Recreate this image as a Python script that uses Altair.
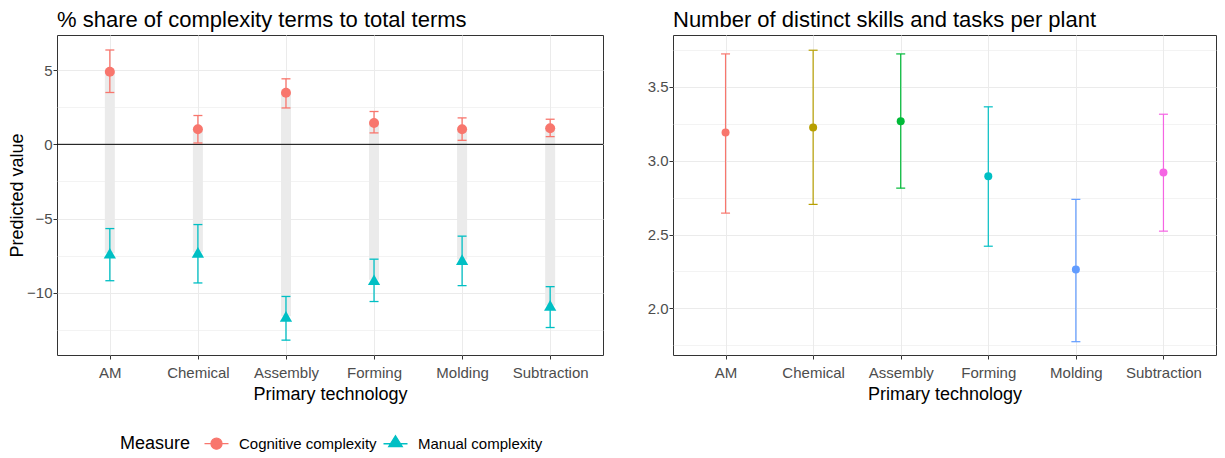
import altair as alt
import pandas as pd

tech = ["AM", "Chemical", "Assembly", "Forming", "Molding", "Subtraction"]
measures = ["Cognitive complexity", "Manual complexity"]

cog = [4.89, 1.01, 3.47, 1.44, 1.01, 1.08]
cog_lo = [3.49, 0.09, 2.45, 0.77, 0.27, 0.52]
cog_hi = [6.35, 1.94, 4.41, 2.21, 1.78, 1.69]
man = [-7.33, -7.27, -11.58, -9.11, -7.76, -10.84]
man_lo = [-9.18, -9.33, -13.18, -10.58, -9.51, -12.33]
man_hi = [-5.67, -5.40, -10.24, -7.73, -6.18, -9.58]

skills = [3.19, 3.224, 3.267, 2.894, 2.264, 2.919]
skills_lo = [2.645, 2.704, 2.814, 2.421, 1.775, 2.523]
skills_hi = [3.722, 3.747, 3.722, 3.364, 2.738, 3.314]

left_ticks = [-12.5, -10, -7.5, -5, -2.5, 0, 2.5, 5, 7.5]
right_ticks = [1.75, 2.0, 2.25, 2.5, 2.75, 3.0, 3.25, 3.5, 3.75]

measure_colors = ["#F8766D", "#00BFC4"]
tech_colors = ["#F8766D", "#B79F00", "#00BA38", "#00BFC4", "#619CFF", "#F564E3"]

# legend keys: point with a short horizontal error-bar line through it
key_paths = [
    "M-2.4,0L2.4,0M-1.1,0A1.1,1.1,0,1,1,1.1,0A1.1,1.1,0,1,1,-1.1,0Z",
    "M-2.4,0L2.4,0M0,-1.6L1.35,0.55L-1.35,0.55Z",
]

FONT = "Liberation Sans"

long_rows = []
for i, t in enumerate(tech):
    long_rows.append({"tech": t, "Measure": measures[0], "val": cog[i], "lo": cog_lo[i], "hi": cog_hi[i]})
    long_rows.append({"tech": t, "Measure": measures[1], "val": man[i], "lo": man_lo[i], "hi": man_hi[i]})
left_df = pd.DataFrame(long_rows)
wide_df = pd.DataFrame({"tech": tech, "cog": cog, "man": man})
zero_df = pd.DataFrame({"z": [0]})
right_df = pd.DataFrame({"tech": tech, "val": skills, "lo": skills_lo, "hi": skills_hi})


def xenc():
    return alt.X("tech:N", sort=tech,
                 scale=alt.Scale(type="point", padding=0.6, domain=tech),
                 axis=alt.Axis(title="Primary technology", labelAngle=0, grid=True,
                               gridWidth=1, titlePadding=5, labelPadding=6))


def left_axis():
    return alt.Axis(title="Predicted value", values=left_ticks, grid=True,
                    labelExpr="datum.value % 5 === 0 ? datum.label : ''",
                    gridWidth={"condition": {"test": "datum.value % 5 !== 0", "value": 0.6}, "value": 1.1},
                    tickOpacity={"condition": {"test": "datum.value % 5 !== 0", "value": 0}, "value": 1},
                    titlePadding=0, labelPadding=1)


def right_axis():
    test = "abs(datum.value * 2 - round(datum.value * 2)) > 0.001"
    return alt.Axis(title=None, values=right_ticks, grid=True, format=".1f",
                    labelExpr="abs(datum.value * 2 - round(datum.value * 2)) > 0.001 ? '' : datum.label",
                    gridWidth={"condition": {"test": test, "value": 0.6}, "value": 1.1},
                    tickOpacity={"condition": {"test": test, "value": 0}, "value": 1},
                    labelPadding=1)


lscale = alt.Scale(domain=[-14.18, 7.36], nice=False, zero=False)
rscale = alt.Scale(domain=[1.685, 3.85], nice=False, zero=False)


def build(fancy, colpad):
    leg_kwargs = dict(title="Measure", orient="none", legendX=63, legendY=401,
                      direction="horizontal", titleOrient="left",
                      titleFontSize=18, titleFontWeight="normal", titleColor="#000000",
                      titleFont=FONT, labelFont=FONT, labelFontSize=15, labelColor="#000000",
                      titlePadding=18 if fancy else 10, labelOffset=15 if fancy else 10,
                      columnPadding=colpad, symbolSize=100, symbolOpacity=1,
                      symbolStrokeWidth=1.3)
    legend = alt.Legend(**leg_kwargs)

    lcolor = alt.Color("Measure:N", scale=alt.Scale(domain=measures, range=measure_colors), legend=legend)

    bars = alt.Chart(wide_df).mark_rule(strokeWidth=10, color="#EBEBEB").encode(
        x=xenc(),
        y=alt.Y("man:Q", scale=lscale, axis=left_axis()),
        y2="cog:Q",
    )
    zero = alt.Chart(zero_df).mark_rule(color="#000000", strokeWidth=1).encode(
        y=alt.Y("z:Q", scale=lscale, axis=left_axis()),
    )
    err = alt.Chart(left_df).mark_rule(strokeWidth=1.3).encode(
        x=xenc(),
        y=alt.Y("lo:Q", scale=lscale, axis=left_axis()),
        y2="hi:Q",
        color=lcolor,
    )
    cap_lo = alt.Chart(left_df).mark_tick(size=9, thickness=1.3, opacity=1).encode(
        x=xenc(), y=alt.Y("lo:Q", scale=lscale, axis=left_axis()), color=lcolor)
    cap_hi = alt.Chart(left_df).mark_tick(size=9, thickness=1.3, opacity=1).encode(
        x=xenc(), y=alt.Y("hi:Q", scale=lscale, axis=left_axis()), color=lcolor)
    pts_c = alt.Chart(left_df).transform_filter(
        alt.datum.Measure == measures[0]
    ).mark_point(filled=True, opacity=1, shape="circle", size=100).encode(
        x=xenc(), y=alt.Y("val:Q", scale=lscale, axis=left_axis()), color=lcolor)
    pts_m = alt.Chart(left_df).transform_filter(
        alt.datum.Measure == measures[1]
    ).mark_point(filled=True, opacity=1, shape="triangle-up", size=150).encode(
        x=xenc(), y=alt.Y("val:Q", scale=lscale, axis=left_axis()), color=lcolor)
    layers = [bars, zero, err, cap_lo, cap_hi, pts_c, pts_m]
    if fancy:
        key_layer = alt.Chart(left_df).transform_filter("false").mark_point(
            filled=True, opacity=1, strokeWidth=1.3
        ).encode(
            x=xenc(), y=alt.Y("val:Q", scale=lscale, axis=left_axis()), color=lcolor,
            shape=alt.Shape("Measure:N", scale=alt.Scale(domain=measures, range=key_paths), legend=legend),
            stroke=alt.Stroke("Measure:N", scale=alt.Scale(domain=measures, range=measure_colors), legend=legend),
        )
        layers.append(key_layer)
    left = alt.layer(*layers).properties(
        width=546, height=320,
        title=alt.TitleParams("% share of complexity terms to total terms", anchor="start", frame="group",
                              fontSize=22, fontWeight="normal", font=FONT, color="#000000", offset=3),
    )

    rcolor = alt.Color("tech:N", scale=alt.Scale(domain=tech, range=tech_colors), legend=None)
    rerr = alt.Chart(right_df).mark_rule(strokeWidth=1.2).encode(
        x=xenc(), y=alt.Y("lo:Q", scale=rscale, axis=right_axis()), y2="hi:Q", color=rcolor)
    rcap_lo = alt.Chart(right_df).mark_tick(size=9, thickness=1.2, opacity=1).encode(
        x=xenc(), y=alt.Y("lo:Q", scale=rscale, axis=right_axis()), color=rcolor)
    rcap_hi = alt.Chart(right_df).mark_tick(size=9, thickness=1.2, opacity=1).encode(
        x=xenc(), y=alt.Y("hi:Q", scale=rscale, axis=right_axis()), color=rcolor)
    rpts = alt.Chart(right_df).mark_circle(size=64, opacity=1).encode(
        x=xenc(), y=alt.Y("val:Q", scale=rscale, axis=right_axis()), color=rcolor)
    right = alt.layer(rerr, rcap_lo, rcap_hi, rpts).properties(
        width=543, height=320,
        title=alt.TitleParams("Number of distinct skills and tasks per plant", anchor="start",
                              frame="group", fontSize=22, fontWeight="normal", font=FONT,
                              color="#000000", offset=3),
    )

    pad = {"left": 0, "top": 0, "right": 0, "bottom": 0}
    chart = alt.hconcat(left, right, spacing=42).resolve_scale(
        color="independent", shape="independent", stroke="independent",
        y="independent", x="independent"
    ).resolve_legend(color="independent", shape="independent", stroke="independent").properties(
        padding=pad,
        background="#FFFFFF",
    ).configure_view(
        stroke="#333333", strokeWidth=1
    ).configure_axis(
        labelFont=FONT, labelFontSize=15, labelColor="#4D4D4D",
        titleFont=FONT, titleFontSize=18, titleColor="#000000", titleFontWeight="normal",
        tickColor="#333333", tickSize=4, domain=False, gridColor="#EBEBEB",
    )
    return chart


chart = None
for fancy, colpad in [(True, 3), (True, 0), (False, 8)]:
    try:
        c = build(fancy, colpad)
        c.to_dict()
        chart = c
        break
    except Exception:
        continue

chart.save("out.html", embed_options={"renderer": "svg", "actions": False})
